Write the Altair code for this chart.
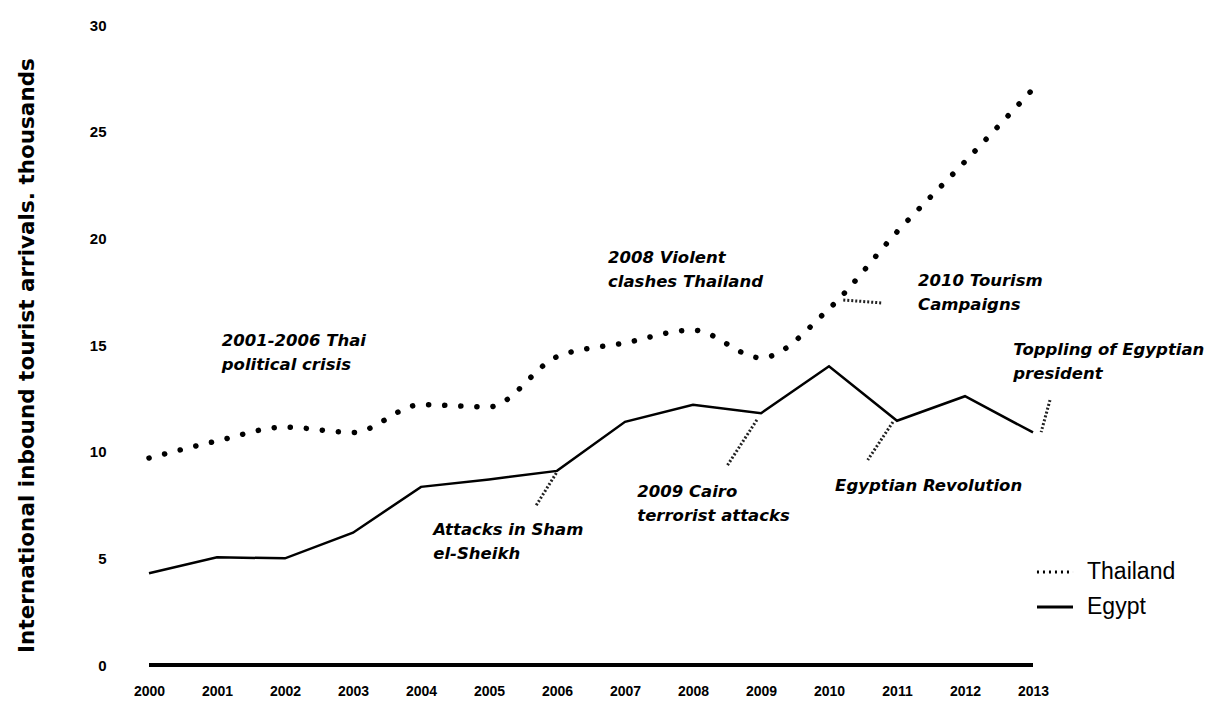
import altair as alt
import pandas as pd

# ---- data ----
years = list(range(2000, 2014))
thailand = [9.7, 10.5, 11.15, 10.9, 12.2, 12.1, 14.45, 15.1, 15.7, 14.4, 16.7, 20.3, 23.6, 27.0]
egypt = [4.3, 5.05, 5.0, 6.2, 8.35, 8.7, 9.1, 11.4, 12.2, 11.8, 14.0, 11.45, 12.6, 10.9]

y_ticks = [0, 5, 10, 15, 20, 25, 30]

ann_text = [
    ["2001-2006 Thai", "political crisis"],
    ["2008 Violent", "clashes Thailand"],
    ["2010 Tourism", "Campaigns"],
    ["Toppling of Egyptian", "president"],
    ["Attacks in Sham", "el-Sheikh"],
    ["2009 Cairo", "terrorist attacks"],
    ["Egyptian Revolution"],
]
ann_year = [2001.07, 2006.75, 2011.31, 2012.71, 2004.18, 2007.18, 2010.09]
ann_value = [15.56, 19.46, 18.38, 15.14, 6.70, 8.49, 8.77]

conn_year1 = [2005.99, 2008.94, 2010.94, 2013.25, 2010.21]
conn_val1 = [9.0, 11.49, 11.39, 12.42, 17.11]
conn_year2 = [2005.68, 2008.50, 2010.57, 2013.12, 2010.78]
conn_val2 = [7.41, 9.33, 9.61, 10.92, 16.97]

series_names = ["Thailand", "Egypt"]

# ---- tables ----
df_th = pd.DataFrame({"year": years, "value": thailand})
df_eg = pd.DataFrame({"year": years, "value": egypt})
df_base = pd.DataFrame({"start": [years[0]], "end": [years[-1]], "value": [0]})
df_ann = pd.DataFrame({"text": ann_text, "year": ann_year, "value": ann_value})
df_conn = pd.DataFrame({"y1": conn_year1, "v1": conn_val1, "y2": conn_year2, "v2": conn_val2})
df_leg = pd.DataFrame({"series": series_names, "year": [2000, 2000], "value": [0, 0]})

xscale = alt.Scale(domain=[1999.5, 2013.5], nice=False, zero=False)
yscale = alt.Scale(domain=[0, 30], nice=False)

X = alt.X("year:Q", scale=xscale, title=None,
          axis=alt.Axis(values=years, format="d", domain=False, ticks=False, grid=False,
                        labelFont="Liberation Sans", labelFontWeight="bold", labelFontSize=14,
                        labelColor="black", labelPadding=19))
Y = alt.Y("value:Q", scale=yscale,
          title="International inbound tourist arrivals. thousands",
          axis=alt.Axis(values=y_ticks, domain=False, ticks=False, grid=False,
                        labelFont="Liberation Sans", labelFontWeight="bold", labelFontSize=15,
                        labelColor="black", labelPadding=9,
                        titleFont="DejaVu Sans", titleFontWeight="bold", titleFontSize=21.5,
                        titleColor="black", titleAngle=-90, titleX=-88, titleY=330,
                        titleAlign="center", titleBaseline="middle"))

thai_line = alt.Chart(df_th).mark_line(
    color="black", strokeWidth=5.5, strokeCap="round", strokeDash=[0.1, 16],
    interpolate="monotone"
).encode(x=X, y=Y)

egypt_line = alt.Chart(df_eg).mark_line(color="black", strokeWidth=2.5).encode(
    x=alt.X("year:Q", scale=xscale), y=alt.Y("value:Q", scale=yscale))

base = alt.Chart(df_base).mark_rule(color="black", strokeWidth=4).encode(
    x=alt.X("start:Q", scale=xscale), x2="end:Q", y=alt.Y("value:Q", scale=yscale))

conn = alt.Chart(df_conn).mark_rule(color="#222", strokeWidth=3, strokeDash=[2, 2]).encode(
    x=alt.X("y1:Q", scale=xscale), y=alt.Y("v1:Q", scale=yscale), x2="y2:Q", y2="v2:Q")

ann = alt.Chart(df_ann).mark_text(
    font="DejaVu Sans", fontWeight="bold", fontStyle="italic", fontSize=16.5,
    align="left", baseline="top", lineHeight=24, color="black"
).encode(x=alt.X("year:Q", scale=xscale), y=alt.Y("value:Q", scale=yscale), text="text")

legend_layer = alt.Chart(df_leg).mark_line(color="black", strokeWidth=3).encode(
    x=alt.X("year:Q", scale=xscale), y=alt.Y("value:Q", scale=yscale),
    strokeDash=alt.StrokeDash("series:N",
        scale=alt.Scale(domain=series_names, range=[[2, 4], [1, 0]]),
        legend=alt.Legend(title=None, orient="none", legendX=920, legendY=527,
                          symbolType="stroke", symbolSize=1300, symbolStrokeWidth=3,
                          symbolStrokeColor="black",
                          labelFont="Liberation Sans", labelFontSize=23, labelColor="black",
                          rowPadding=3, labelOffset=12)))

chart = alt.layer(base, egypt_line, thai_line, conn, ann, legend_layer).properties(
    width=952, height=640,
    padding={"left": 107, "top": 17, "right": 150, "bottom": 40},
    autosize=alt.AutoSizeParams(type="none"),
    background="white",
).configure_view(stroke="transparent", strokeWidth=0)

chart.save("out.html", embed_options={"renderer": "svg", "actions": False})
